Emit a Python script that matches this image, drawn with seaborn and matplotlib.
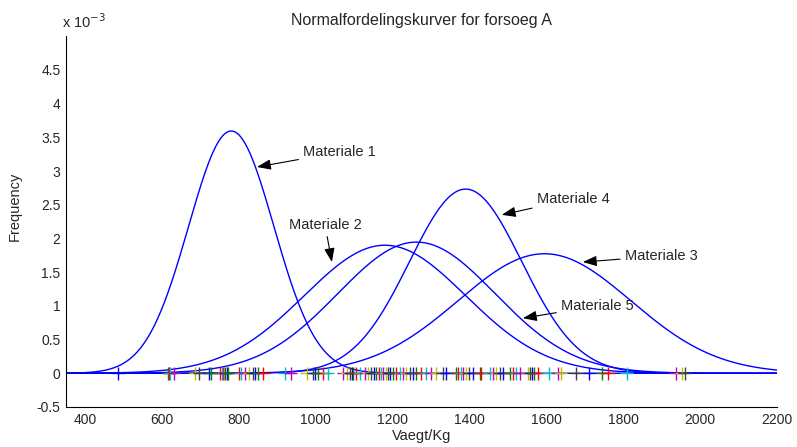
import numpy as np
import pandas as pd
import matplotlib
matplotlib.use('Agg')
import matplotlib.pyplot as plt
from matplotlib.ticker import FuncFormatter
import seaborn as sns

# fitted normal parameters per material (Vaegt/Kg)
materials = ['Materiale 1', 'Materiale 2', 'Materiale 3', 'Materiale 4', 'Materiale 5']
means = [780, 1180, 1595, 1390, 1262]
stds = [111, 210, 225, 146, 205]

# raw measurements plotted as '+' along zero line
measurements = [486, 615, 618, 621, 631, 686, 697, 723, 727, 752, 755, 758, 762, 765,
                768, 771, 800, 806, 816, 826, 836, 842, 850, 863, 919, 935, 976, 993,
                998, 1005, 1020, 1032, 1071, 1080, 1089, 1093, 1097, 1104, 1115, 1128,
                1136, 1145, 1151, 1158, 1165, 1171, 1175, 1182, 1188, 1194, 1201, 1210,
                1219, 1227, 1236, 1245, 1252, 1260, 1273, 1288, 1301, 1314, 1330, 1340,
                1365, 1371, 1378, 1384, 1390, 1398, 1410, 1427, 1431, 1453, 1462, 1470,
                1479, 1488, 1505, 1514, 1522, 1531, 1553, 1557, 1563, 1568, 1577, 1606,
                1631, 1638, 1678, 1711, 1746, 1761, 1809, 1937, 1952, 1960]

# annotation: text pos (x, y) and arrow head (x, y), y in 1e-3 units
label_pos = [(967, 3.28), (1024, 2.2), (1804, 1.74), (1575, 2.585), (1638, 1.0)]
arrow_head = [(847, 3.06), (1042, 1.65), (1695, 1.65), (1484, 2.35), (1539, 0.817)]
label_ha = ['left', 'center', 'left', 'left', 'left']

matlab_colors = [(0, 0, 1), (0, 0.5, 0), (1, 0, 0), (0, 0.75, 0.75),
                 (0.75, 0, 0.75), (0.75, 0.75, 0), (0.25, 0.25, 0.25)]

sns.set_style('white')
plt.rcParams['font.family'] = ['Liberation Sans', 'DejaVu Sans']

fig = plt.figure(figsize=(7.97, 4.47), dpi=100)
ax = fig.add_axes([0.0828, 0.0895, 0.892, 0.8295])

xs = np.linspace(350, 2200, 600)
for mu, sd in zip(means, stds):
    pdf = np.exp(-0.5 * ((xs - mu) / sd) ** 2) / (sd * np.sqrt(2 * np.pi))
    sns.lineplot(x=xs, y=pdf, ax=ax, color=(0, 0, 1), linewidth=1.0)

rug = pd.DataFrame({'x': measurements, 'y': 0.0,
                    'grp': [i % 7 for i in range(len(measurements))]})
sns.scatterplot(data=rug, x='x', y='y', hue='grp', palette=matlab_colors,
                marker='+', s=85, linewidth=1.0, legend=False, ax=ax, zorder=3)

for name, (tx, ty), (hx, hy), ha in zip(materials, label_pos, arrow_head, label_ha):
    ax.annotate(name, xy=(hx, hy * 1e-3), xytext=(tx, ty * 1e-3),
                ha=ha, va='center', fontsize=10.5,
                arrowprops=dict(arrowstyle='-|>,head_length=0.8,head_width=0.3',
                                color='k', lw=0.8, shrinkA=1, shrinkB=0))

ax.set_xlim(350, 2200)
ax.set_ylim(-0.5e-3, 5e-3)
ax.set_xticks(np.arange(400, 2201, 200))
ax.set_yticks(np.arange(-0.5e-3, 4.51e-3, 0.5e-3))
ax.yaxis.set_major_formatter(FuncFormatter(lambda v, p: '%g' % round(v * 1e3, 2)))
ax.tick_params(direction='in', length=5, width=0.8, labelsize=10, pad=4)
for s in ['top', 'right']:
    ax.spines[s].set_visible(False)
for s in ['left', 'bottom']:
    ax.spines[s].set_linewidth(0.8)
    ax.spines[s].set_color('k')

ax.set_title('Normalfordelingskurver for forsoeg A', fontsize=11.5, pad=8)
ax.set_xlabel('Vaegt/Kg', fontsize=10.5, labelpad=2)
ax.set_ylabel('Frequency', fontsize=10.5)
ax.yaxis.set_label_coords(-0.062, 0.54)
ax.text(-0.006, 1.015, r'x 10$^{-3}$', transform=ax.transAxes, fontsize=10.5,
        ha='left', va='bottom')

fig.savefig('out.png', dpi=100)
